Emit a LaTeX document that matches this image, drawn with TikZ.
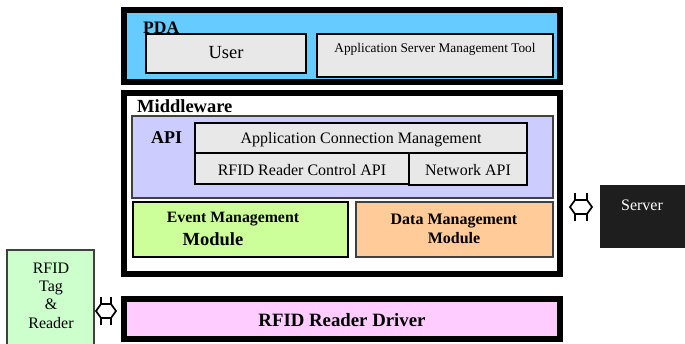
\documentclass[tikz,border=0pt]{standalone}
\usepackage{fontspec}
\setmainfont{Liberation Serif}
\definecolor{pdablue}{HTML}{66CCFF}
\definecolor{boxgray}{HTML}{E8E8E8}
\definecolor{apiblue}{HTML}{CCCCFF}
\definecolor{evtgreen}{HTML}{CCFF99}
\definecolor{datorange}{HTML}{FFCC99}
\definecolor{drvpink}{HTML}{FFCCFF}
\definecolor{taggreen}{HTML}{CCFFCC}
\definecolor{srvblack}{HTML}{1E1E1E}
\tikzset{
  frame/.style={draw=black, line width=6pt, inner sep=0pt, rectangle},
  box/.style={draw=black, line width=1.6pt, inner sep=0pt, rectangle},
  thinbox/.style={draw=black!75, line width=1.3pt, inner sep=0pt, rectangle},
  txt/.style={inner sep=0pt, font=\fontsize{16}{19}\selectfont},
  btxt/.style={inner sep=0pt, font=\fontsize{16}{19}\selectfont\bfseries},
  dbl/.pic={
    \draw[line width=1.7pt, fill=white, line join=miter]
      (-#1,0) -- (-#1+5,-7) -- (#1-5,-7) -- (#1,0) -- (#1-5,7) -- (-#1+5,7) -- cycle;
    \draw[line width=1.7pt] (-#1+5,-7) -- (-#1+5,-14) (#1-5,-7) -- (#1-5,-14)
      (-#1+5,7) -- (-#1+5,14) (#1-5,7) -- (#1-5,14);
  },
}
\begin{document}
\begin{tikzpicture}[x=1pt,y=-1pt]
\clip (0,0) rectangle (685,343);
\fill[white] (0,0) rectangle (685,343);
% PDA
\node[frame, fill=pdablue, minimum width=436pt, minimum height=72pt] (pda) at (342,46) {};
\node[box, fill=boxgray, minimum width=160pt, minimum height=39pt] (user) at (226,53.5) {};
\node[txt, font=\fontsize{18.5}{20}\selectfont] (usert) at (226,53) {User};
\node[box, fill=boxgray, minimum width=236pt, minimum height=43pt] (tool) at (435,55.5) {};
\node[txt, font=\fontsize{13.3}{15}\selectfont] (toolt) at (435,49) {Application Server Management Tool};
\node[btxt, font=\fontsize{17.5}{20}\selectfont\bfseries, anchor=base west] (pdat) at (143,33) {PDA};
% Middleware
\node[frame, fill=white, minimum width=436pt, minimum height=181pt] (mw) at (342,183.5) {};
\node[btxt, font=\fontsize{18.5}{20}\selectfont\bfseries, anchor=base west] (mwt) at (137,112) {Middleware};
\node[thinbox, fill=apiblue, minimum width=421pt, minimum height=82pt] (api) at (342.5,157) {};
\node[btxt, font=\fontsize{18}{20}\selectfont\bfseries, anchor=west] (apit) at (151,138) {API};
\node[box, fill=boxgray, minimum width=332pt, minimum height=30pt] (acm) at (361,138) {};
\node[txt] (acmt) at (361,139.5) {Application Connection Management};
\node[box, fill=boxgray, minimum width=214pt, minimum height=31pt] (rrc) at (302,168.5) {};
\node[txt] (rrct) at (302,170) {RFID Reader Control API};
\node[box, fill=boxgray, minimum width=118pt, minimum height=32pt] (net) at (468,169) {};
\node[txt] (nett) at (468,170) {Network API};
\node[box, fill=evtgreen, minimum width=215pt, minimum height=55pt] (evt) at (240.5,229.5) {};
\node[btxt, font=\fontsize{15.8}{19}\selectfont\bfseries] (evt1) at (233,219) {Event Management};
\node[btxt, font=\fontsize{18.5}{20}\selectfont\bfseries] (evt2) at (213,239) {Module};
\node[thinbox, fill=datorange, minimum width=197pt, minimum height=55pt] (dat) at (454.5,229.5) {};
\node[btxt, align=center] (datt) at (454,228.5) {Data Management\\Module};
% Driver
\node[frame, fill=drvpink, minimum width=436pt, minimum height=40pt] (drv) at (342,319) {};
\node[btxt, font=\fontsize{18.8}{21}\selectfont\bfseries] (drvt) at (342,320) {RFID Reader Driver};
% RFID tag
\node[thinbox, fill=taggreen, minimum width=87pt, minimum height=110pt] (tag) at (50.5,305) {};
\node[txt, align=center, font=\fontsize{16}{18.4}\selectfont] (tagt) at (51,295.5) {RFID\\Tag\\\&\\Reader};
% Server
\node[draw=srvblack, fill=srvblack, line width=1pt, inner sep=0pt, minimum width=95pt, minimum height=62pt] (srv) at (647.5,216) {};
\node[txt, text=white] (srvt) at (642,205) {Server};
% double arrows
\pic at (106,311) {dbl=10};
\pic at (581,207) {dbl=11};
\end{tikzpicture}
\end{document}
